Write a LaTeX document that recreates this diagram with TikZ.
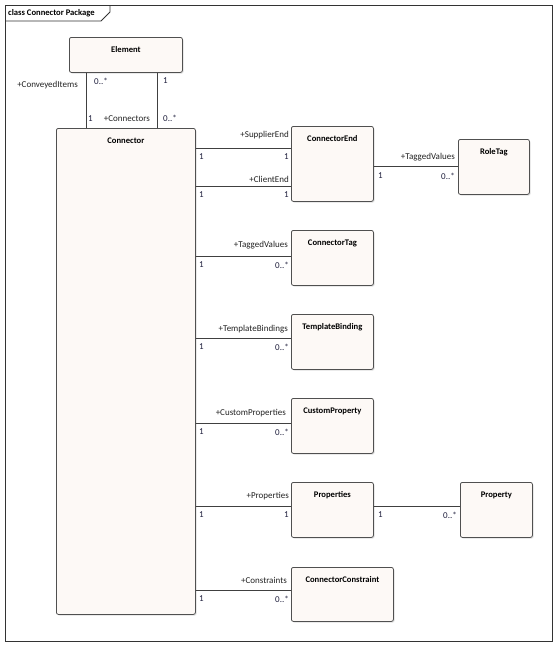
\documentclass[tikz,border=0pt]{standalone}
\usepackage{fontspec}
\setmainfont{Carlito}
\usetikzlibrary{shadows,calc}
\definecolor{boxfill}{HTML}{FDF9F6}
\definecolor{boxline}{HTML}{505050}
\definecolor{linec}{HTML}{404040}
\definecolor{framec}{HTML}{333333}
\definecolor{multc}{HTML}{1E1E3C}
\definecolor{rolec}{HTML}{222222}
\tikzset{
  cls/.style={draw=boxline, fill=boxfill, line width=0.8pt, rounded corners=2pt, inner sep=0pt, anchor=north west,
    drop shadow={opacity=0.25, shadow xshift=1.2pt, shadow yshift=-1.2pt}},
  ttl/.style={font=\fontsize{8.6}{10}\selectfont\bfseries, inner sep=0pt},
  hdr/.style={font=\fontsize{8.6}{10}\selectfont\bfseries, inner sep=0pt},
  role/.style={font=\fontsize{9}{10}\selectfont, inner sep=0pt, anchor=base east, text=rolec},
  rolel/.style={font=\fontsize{9}{10}\selectfont, inner sep=0pt, text=rolec},
  mult/.style={font=\fontsize{9}{10}\selectfont, inner sep=0pt, text=multc},
  assoc/.style={draw=linec, line width=1pt},
  frame/.style={draw=framec, line width=0.8pt},
}
\begin{document}
\begin{tikzpicture}[x=1pt,y=-1pt]
\useasboundingbox (0,0) rectangle (560,646);
% frame
\draw[frame] (5,5) rectangle (552,641);
\draw[frame] (5,21) -- (101,21) -- (110,12) -- (110,5);
\node[hdr, anchor=west] (hdr) at (8,13) {class Connector Package};

% classes
\node[cls, minimum width=113pt, minimum height=35pt] (element) at (69,37) {};
\node[cls, minimum width=139pt, minimum height=486pt] (connector) at (56,128) {};
\node[cls, minimum width=82pt, minimum height=75pt] (cend) at (291,126) {};
\node[cls, minimum width=71pt, minimum height=55pt] (roletag) at (458,139) {};
\node[cls, minimum width=82pt, minimum height=55pt] (ctag) at (291,230) {};
\node[cls, minimum width=82pt, minimum height=55pt] (tbind) at (291,314) {};
\node[cls, minimum width=82pt, minimum height=55pt] (cprop) at (291,398) {};
\node[cls, minimum width=82pt, minimum height=55pt] (props) at (291,482) {};
\node[cls, minimum width=72pt, minimum height=55pt] (prop) at (460,482) {};
\node[cls, minimum width=102pt, minimum height=54pt] (ccons) at (291,567) {};

% titles
\node[ttl] (t-element) at ([yshift=-13pt]element.north) {Element};
\node[ttl] (t-connector) at ([yshift=-13pt]connector.north) {Connector};
\node[ttl] (t-cend) at ([yshift=-13pt]cend.north) {ConnectorEnd};
\node[ttl] (t-roletag) at ([yshift=-13pt]roletag.north) {RoleTag};
\node[ttl] (t-ctag) at ([yshift=-13pt]ctag.north) {ConnectorTag};
\node[ttl] (t-tbind) at ([yshift=-13pt]tbind.north) {TemplateBinding};
\node[ttl] (t-cprop) at ([yshift=-13pt]cprop.north) {CustomProperty};
\node[ttl] (t-props) at ([yshift=-13pt]props.north) {Properties};
\node[ttl] (t-prop) at ([yshift=-13pt]prop.north) {Property};
\node[ttl] (t-ccons) at ([yshift=-13pt]ccons.north) {ConnectorConstraint};

% helper coordinates
\coordinate (cx1) at (86,0);
\coordinate (cx2) at (157,0);
\coordinate (ly1) at (0,148);
\coordinate (ly2) at (0,186);
\coordinate (ly3) at (0,256);
\coordinate (ly4) at (0,338);
\coordinate (ly5) at (0,423);
\coordinate (ly6) at (0,506);
\coordinate (ly7) at (0,590);
\coordinate (ly8) at (0,166);

% Element - Connector
\draw[assoc] (element.south -| cx1) -- (connector.north -| cx1);
\draw[assoc] (element.south -| cx2) -- (connector.north -| cx2);
\node[rolel, anchor=east] (l-conv) at (78,85) {+ConveyedItems};
\node[mult, anchor=west] (m-e1) at (94,81) {0..*};
\node[mult, anchor=west] (m-e2) at (163,81) {1};
\node[mult, anchor=west] (m-c1) at (88,118.5) {1};
\node[rolel, anchor=east] (l-conns) at (150,119) {+Connectors};
\node[mult, anchor=west] (m-c2) at (163,118.5) {0..*};

% associations from Connector
\draw[assoc] (connector.east |- ly1) -- (cend.west |- ly1);
\node[role] (r1) at ($(cend.west |- ly1)+(-2,-11)$) {+SupplierEnd};
\node[mult, anchor=west] (m1a) at ($(connector.east |- ly1)+(3,9)$) {1};
\node[mult, anchor=east] (m1b) at ($(cend.west |- ly1)+(-2,9)$) {1};

\draw[assoc] (connector.east |- ly2) -- (cend.west |- ly2);
\node[role] (r2) at ($(cend.west |- ly2)+(-2,-4)$) {+ClientEnd};
\node[mult, anchor=west] (m2a) at ($(connector.east |- ly2)+(3,9)$) {1};
\node[mult, anchor=east] (m2b) at ($(cend.west |- ly2)+(-2,9)$) {1};

\draw[assoc] (connector.east |- ly3) -- (ctag.west |- ly3);
\node[role] (r3) at ($(ctag.west |- ly3)+(-3,-9)$) {+TaggedValues};
\node[mult, anchor=west] (m3a) at ($(connector.east |- ly3)+(3,9)$) {1};
\node[mult, anchor=east] (m3b) at ($(ctag.west |- ly3)+(-2,9)$) {0..*};

\draw[assoc] (connector.east |- ly4) -- (tbind.west |- ly4);
\node[role] (r4) at ($(tbind.west |- ly4)+(-3,-7)$) {+TemplateBindings};
\node[mult, anchor=west] (m4a) at ($(connector.east |- ly4)+(3,9)$) {1};
\node[mult, anchor=east] (m4b) at ($(tbind.west |- ly4)+(-2,9)$) {0..*};

\draw[assoc] (connector.east |- ly5) -- (cprop.west |- ly5);
\node[role] (r5) at ($(cprop.west |- ly5)+(-5,-8)$) {+CustomProperties};
\node[mult, anchor=west] (m5a) at ($(connector.east |- ly5)+(3,9)$) {1};
\node[mult, anchor=east] (m5b) at ($(cprop.west |- ly5)+(-2,9)$) {0..*};

\draw[assoc] (connector.east |- ly6) -- (props.west |- ly6);
\node[role] (r6) at ($(props.west |- ly6)+(-2,-8)$) {+Properties};
\node[mult, anchor=west] (m6a) at ($(connector.east |- ly6)+(3,9)$) {1};
\node[mult, anchor=east] (m6b) at ($(props.west |- ly6)+(-2,9)$) {1};

\draw[assoc] (connector.east |- ly7) -- (ccons.west |- ly7);
\node[role] (r7) at ($(ccons.west |- ly7)+(-4,-7)$) {+Constraints};
\node[mult, anchor=west] (m7a) at ($(connector.east |- ly7)+(3,9)$) {1};
\node[mult, anchor=east] (m7b) at ($(ccons.west |- ly7)+(-2,9)$) {0..*};

% ConnectorEnd - RoleTag
\draw[assoc] (cend.east |- ly8) -- (roletag.west |- ly8);
\node[role] (r8) at ($(roletag.west |- ly8)+(-3,-7)$) {+TaggedValues};
\node[mult, anchor=west] (m8a) at ($(cend.east |- ly8)+(4,10)$) {1};
\node[mult, anchor=east] (m8b) at ($(roletag.west |- ly8)+(-3,10)$) {0..*};

% Properties - Property
\draw[assoc] (props.east |- ly6) -- (prop.west |- ly6);
\node[mult, anchor=west] (m9a) at ($(props.east |- ly6)+(4,9)$) {1};
\node[mult, anchor=east] (m9b) at ($(prop.west |- ly6)+(-3,9)$) {0..*};
\end{tikzpicture}
\end{document}
